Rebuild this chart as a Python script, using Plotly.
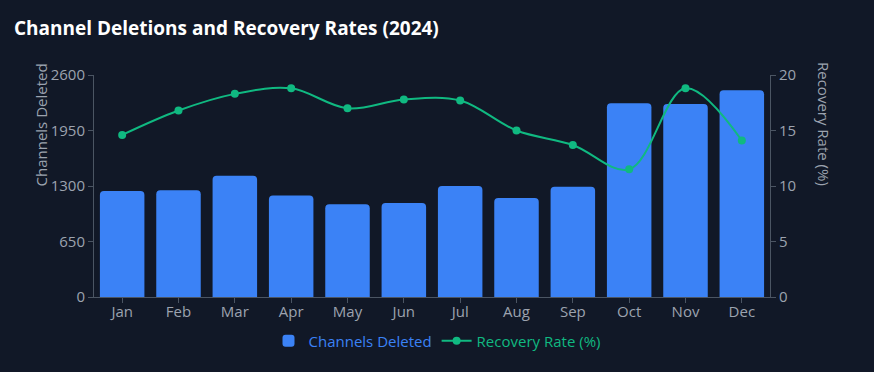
import plotly.graph_objects as go

months = ["Jan", "Feb", "Mar", "Apr", "May", "Jun", "Jul", "Aug", "Sep", "Oct", "Nov", "Dec"]
channels_deleted = [1240, 1250, 1420, 1190, 1085, 1100, 1300, 1160, 1290, 2270, 2260, 2420]
recovery_rate = [14.6, 16.8, 18.3, 18.8, 17.0, 17.8, 17.7, 15.0, 13.7, 11.5, 18.8, 14.1]
left_ticks = [0, 650, 1300, 1950, 2600]
right_ticks = [0, 5, 10, 15, 20]

BG = "#111827"
BAR = "#3b82f6"
LINE = "#10b981"
TICK = "#9ca3af"
AXIS = "#4b5563"
FONT = "Open Sans"

L, R, T, B = 94, 104, 75, 75
PW = 874 - L - R
PH = 372 - T - B

fig = go.Figure()
fig.add_trace(go.Bar(
    x=months, y=channels_deleted,
    name=f"<span style='color:{BAR}'>Channels Deleted</span>",
    marker=dict(color=BAR, line=dict(width=0)),
    yaxis="y",
))
fig.add_trace(go.Scatter(
    x=months, y=recovery_rate,
    name=f"<span style='color:{LINE}'>Recovery Rate (%)</span>",
    mode="lines+markers",
    line=dict(color=LINE, width=2, shape="spline"),
    marker=dict(color=LINE, size=8),
    yaxis="y2",
))

fig.update_layout(
    width=874, height=372,
    paper_bgcolor=BG, plot_bgcolor=BG,
    font=dict(family=FONT, color=TICK, size=15),
    title=dict(text="<b>Channel Deletions and Recovery Rates (2024)</b>",
               x=0.016, xanchor="left", y=0.925, yanchor="middle",
               font=dict(size=19, color="#ffffff", family=FONT)),
    margin=dict(l=L, r=R, t=T, b=B),
    bargap=0.21,
    barcornerradius=4,
    showlegend=True,
    legend=dict(orientation="h", x=0.5, xref="container", xanchor="center",
                y=0.083, yref="container", yanchor="middle",
                font=dict(size=15), bgcolor="rgba(0,0,0,0)", itemwidth=30),
    xaxis=dict(showgrid=False, showline=True, linecolor=AXIS, linewidth=1,
               range=[-0.5, 11.5],
               ticks="outside", tickcolor=AXIS, ticklen=5, automargin=False,
               ticklabelstandoff=-4,
               tickfont=dict(color=TICK, size=15)),
    yaxis=dict(range=[0, 2600], tickvals=left_ticks, showgrid=False, zeroline=False,
               showline=True, linecolor=AXIS, ticks="outside", tickcolor=AXIS, ticklen=5,
               automargin=False, tickfont=dict(color=TICK, size=15)),
    yaxis2=dict(overlaying="y", side="right", range=[0, 20], tickvals=right_ticks,
                showgrid=False, zeroline=False, showline=True, linecolor=AXIS,
                ticks="outside", tickcolor=AXIS, ticklen=5, automargin=False,
                tickfont=dict(color=TICK, size=15)),
    annotations=[
        dict(text="Channels Deleted", textangle=-90, xref="paper", yref="paper",
             x=(40 - L) / PW, y=(372 - B - 124.5) / PH, xanchor="center", yanchor="middle",
             showarrow=False, font=dict(color=TICK, size=15)),
        dict(text="Recovery Rate (%)", textangle=90, xref="paper", yref="paper",
             x=(824 - L) / PW, y=(372 - B - 124) / PH, xanchor="center", yanchor="middle",
             showarrow=False, font=dict(color=TICK, size=15)),
    ],
)

fig.write_html("out.html", config={"displayModeBar": False},
               post_script="document.body.style.margin='0';document.body.style.background='#111827';")
